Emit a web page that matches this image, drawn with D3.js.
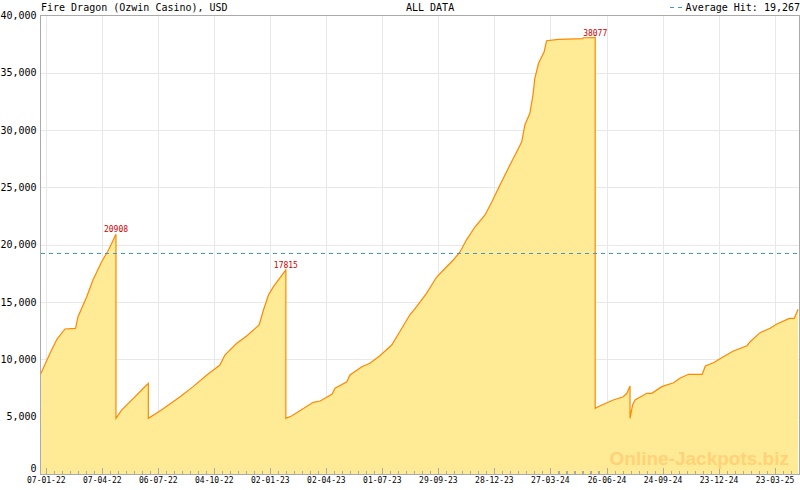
<!DOCTYPE html>
<html>
<head>
<meta charset="utf-8">
<script src="https://cdn.jsdelivr.net/npm/d3@7"></script>
<style>
  html, body { margin: 0; padding: 0; background: #fff; }
  svg { display: block; }
</style>
</head>
<body>
<svg id="chart" width="800" height="490"></svg>
<script>
// ---------- data ----------
const title = "Fire Dragon (Ozwin Casino), USD";
const periodLabel = "ALL DATA";
const averageHit = 19267;
const peakValues = [20908, 17815, 38077];

const dates = [
  "2021-12-29","2022-01-13","2022-01-24","2022-02-06","2022-02-23","2022-02-27","2022-03-13","2022-03-23",
  "2022-04-06","2022-04-17","2022-04-29","2022-04-29","2022-05-08","2022-05-27","2022-06-12","2022-06-20",
  "2022-06-20","2022-07-11","2022-08-10","2022-08-31","2022-09-22","2022-10-13","2022-10-21","2022-11-09",
  "2022-11-25","2022-12-15","2022-12-22","2022-12-30","2023-01-07","2023-01-27","2023-01-27","2023-02-05",
  "2023-03-12","2023-03-23","2023-04-11","2023-04-16","2023-05-05","2023-05-10","2023-05-29","2023-06-11",
  "2023-06-27","2023-07-16","2023-07-29","2023-08-14","2023-08-25","2023-09-10","2023-09-26","2023-10-10",
  "2023-10-23","2023-11-03","2023-11-13","2023-11-27","2023-12-13","2023-12-24","2024-01-06","2024-01-22",
  "2024-02-02","2024-02-10","2024-02-15","2024-02-23","2024-02-28","2024-03-02","2024-03-08","2024-03-17",
  "2024-03-21","2024-04-09","2024-05-18","2024-05-19","2024-06-07","2024-06-07","2024-06-15","2024-07-06",
  "2024-07-22","2024-07-28","2024-08-02","2024-08-02","2024-08-06","2024-08-10","2024-08-29","2024-09-06",
  "2024-09-22","2024-10-11","2024-10-21","2024-11-04","2024-11-26","2024-12-01","2024-12-14","2024-12-30",
  "2025-01-15","2025-02-06","2025-02-11","2025-02-27","2025-03-15","2025-03-26","2025-04-15","2025-04-23",
  "2025-04-29"
];
const values = [
  8724,10530,11750,12650,12710,13720,15470,16920,
  18520,19540,20908,4860,5580,6600,7480,7910,
  4860,5580,6740,7620,8640,9510,10380,11400,
  12040,13000,14310,15620,16340,17815,4860,5060,
  6250,6370,6950,7480,8050,8640,9360,9660,
  10320,11250,12410,13870,14600,15760,17160,17950,
  18670,19390,20410,21570,22600,23760,25210,26960,
  28120,28990,30450,31470,33060,34520,35830,36840,
  37800,37920,37980,38060,38077,5730,5960,6460,
  6740,7040,7680,4860,6000,6460,7040,7040,
  7620,7960,8350,8700,8700,9420,9710,10230,
  10730,11190,11540,12330,12710,13090,13580,13580,
  14370
];
const xTickDates = ["2022-01-07","2022-04-07","2022-07-06","2022-10-04","2023-01-02","2023-04-02",
  "2023-07-01","2023-09-29","2023-12-28","2024-03-27","2024-06-26","2024-09-24","2024-12-23","2025-03-23"];
const yTicks = [0,5000,10000,15000,20000,25000,30000,35000,40000];
const xDomain = ["2021-12-28T17:00:00Z","2025-04-30T12:00:00Z"];

// ---------- setup ----------
const parse = d3.utcParse("%Y-%m-%d");
const series = dates.map((d,i)=>({date: parse(d), value: values[i]}));
const svg = d3.select("#chart");
const L = 40.5, R = 799, T = 15.5, B = 474;
const mono = "'DejaVu Sans Mono', 'Liberation Mono', monospace";

const x = d3.scaleUtc().domain(xDomain.map(s=>new Date(s))).range([L, R]);
const y = d3.scaleLinear().domain([0, 40000]).range([B, T]);
const majorTicks = xTickDates.map(parse);
const minorTicks = [];
majorTicks.forEach(t=>{ for (let k=-6;k<7;k++){ const d=new Date(t.getTime()+k*(90/7)*864e5); if (x(d)>L+1 && x(d)<R-1) minorTicks.push(d);} });

// grid
const grid = svg.append("g").attr("shape-rendering","crispEdges").attr("stroke","#e8e8e8");
grid.selectAll(".gy").data(yTicks.filter(v=>v>0&&v<40000)).join("line")
  .attr("x1",L).attr("x2",R).attr("y1",d=>Math.round(y(d))+0.5).attr("y2",d=>Math.round(y(d))+0.5);
grid.selectAll(".gx").data(majorTicks).join("line")
  .attr("y1",T).attr("y2",B).attr("x1",d=>Math.round(x(d))+0.5).attr("x2",d=>Math.round(x(d))+0.5);

// area + line
const area = d3.area().x(d=>x(d.date)).y0(y(0)).y1(d=>y(d.value));
const line = d3.line().x(d=>x(d.date)).y(d=>y(d.value));
svg.append("path").datum(series).attr("d",area).attr("fill","#ffea95");
svg.append("path").datum(series).attr("d",line).attr("fill","none")
  .attr("stroke","#ff8800").attr("stroke-width",1.2);

// average line
svg.append("line").attr("x1",L).attr("x2",R)
  .attr("y1",Math.round(y(averageHit))+0.5).attr("y2",Math.round(y(averageHit))+0.5)
  .attr("stroke","#3a9ad0").attr("stroke-dasharray","4,4").attr("shape-rendering","crispEdges");

// frame
svg.append("rect").attr("x",L).attr("y",T).attr("width",R-L).attr("height",B-T)
  .attr("fill","none").attr("stroke","#aaaaaa").attr("shape-rendering","crispEdges");

// x ticks
const tk = svg.append("g").attr("stroke","#aaaaaa").attr("shape-rendering","crispEdges");
tk.selectAll(".mn").data(minorTicks).join("line")
  .attr("x1",d=>Math.round(x(d))+0.5).attr("x2",d=>Math.round(x(d))+0.5).attr("y1",B-3).attr("y2",B);
tk.selectAll(".mj").data(majorTicks).join("line")
  .attr("x1",d=>Math.round(x(d))+0.5).attr("x2",d=>Math.round(x(d))+0.5).attr("y1",B-6).attr("y2",B);

const fmt = d3.utcFormat("%d-%m-%y");
svg.append("g").selectAll("text").data(majorTicks).join("text")
  .attr("x",d=>x(d)).attr("y",B+8.5).attr("text-anchor","middle")
  .attr("font-family",mono).attr("font-size",8).attr("fill","#000").text(d=>fmt(d));

// y labels
svg.append("g").selectAll("text").data(yTicks).join("text")
  .attr("x",36.5).attr("y",d=>d===0 ? B-2 : y(d)).attr("dy",d=>d===0 ? null : "0.35em").attr("text-anchor","end")
  .attr("font-family",mono).attr("font-size",10).attr("fill","#000").text(d=>d3.format(",")(d));

// peaks
const peaks = peakValues.map(v=>series.find(d=>d.value===v));
svg.append("g").selectAll("text").data(peaks).join("text")
  .attr("x",d=>x(d.date)).attr("y",d=>y(d.value)-2).attr("text-anchor","middle")
  .attr("font-family",mono).attr("font-size",8).attr("fill","#cc0000").text(d=>d.value);

// header
svg.append("text").attr("x",41).attr("y",10.5).attr("font-family",mono).attr("font-size",10).text(title);
svg.append("text").attr("x",406).attr("y",10.5).attr("font-family",mono).attr("font-size",10).text(periodLabel);
svg.append("line").attr("x1",670).attr("x2",683).attr("y1",7.5).attr("y2",7.5)
  .attr("stroke","#3a9ad0").attr("stroke-dasharray","4,4").attr("shape-rendering","crispEdges");
svg.append("text").attr("x",800).attr("y",10.5).attr("text-anchor","end").attr("font-family",mono)
  .attr("font-size",10).text("Average Hit: " + d3.format(",")(averageHit));

// watermark
svg.append("text").attr("x",789).attr("y",465).attr("text-anchor","end")
  .attr("font-family","'Liberation Sans', Arial, sans-serif").attr("font-weight","bold")
  .attr("font-size",19).attr("fill","#ffd27a").text("Online-Jackpots.biz");
</script>
</body>
</html>
